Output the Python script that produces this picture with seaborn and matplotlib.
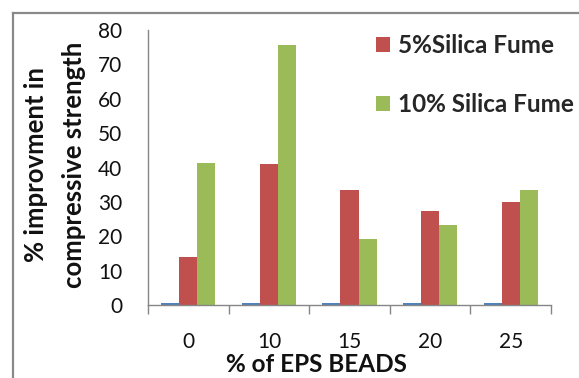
import matplotlib
matplotlib.use("Agg")
import matplotlib.pyplot as plt
from matplotlib.ticker import FixedLocator
import pandas as pd
import seaborn as sns

# EPS bead content (%) and improvement in compressive strength (%)
eps_beads = ["0", "10", "15", "20", "25"]
control = [0.5, 0.5, 0.5, 0.5, 0.5]
silica_5 = [14.0, 41.1, 33.6, 27.4, 30.0]
silica_10 = [41.2, 75.7, 19.2, 23.2, 33.6]
series_names = ["Control", "5%Silica Fume", "10% Silica Fume"]
y_ticks = [0, 10, 20, 30, 40, 50, 60, 70, 80]

colors = ["#4F81BD", "#C0504D", "#9BBB59"]

df = pd.DataFrame({
    "eps": eps_beads * 3,
    "value": control + silica_5 + silica_10,
    "series": [series_names[0]] * 5 + [series_names[1]] * 5 + [series_names[2]] * 5,
})

sns.set_theme(style="white")
plt.rcParams["font.family"] = ["Lato", "DejaVu Sans"]

W, H = 579, 378
fig = plt.figure(figsize=(W / 100, H / 100), dpi=100)
fig.patch.set_facecolor("white")

# chart-area frame: an empty axes whose left and top spines fall inside the image
frame = fig.add_axes([13 / W, -0.05, 1.0, 1.05 - 13 / H], zorder=-1)
frame.patch.set_visible(False)
frame.set_xticks([])
frame.set_yticks([])
for side in ["right", "bottom"]:
    frame.spines[side].set_visible(False)
for side in ["left", "top"]:
    frame.spines[side].set_color("#898989")
    frame.spines[side].set_linewidth(1.6)

# plot area in pixel terms: x 148..551, y 30..305
ax = fig.add_axes([148 / W, 1 - 305 / H, (551 - 148) / W, (305 - 30) / H])

sns.barplot(data=df, x="eps", y="value", hue="series", hue_order=series_names,
            palette=colors, width=0.67, saturation=1, linewidth=0,
            ax=ax)

ax.set_xlim(-0.5, 4.5)
ax.set_ylim(0, 80)
ax.set_yticks(y_ticks)
ax.set_yticklabels([str(v) for v in y_ticks])

for side in ["top", "right"]:
    ax.spines[side].set_visible(False)
for side in ["left", "bottom"]:
    ax.spines[side].set_color("#868686")
    ax.spines[side].set_linewidth(1.0)

ax.xaxis.set_minor_locator(FixedLocator([-0.5, 0.5, 1.5, 2.5, 3.5, 4.5]))
ax.tick_params(axis="both", which="both", direction="out", length=6.5,
               width=1.0, color="#868686", labelsize=15, labelcolor="#111111")
ax.tick_params(axis="y", pad=12)
ax.tick_params(axis="x", pad=13)
ax.tick_params(axis="x", which="minor", bottom=True)

ax.set_xlabel("")
ax.set_ylabel("% improvment in\ncompressive strength", fontsize=18.5,
              fontweight="bold", linespacing=1.7, color="#111111")
ax.yaxis.set_label_coords((86 - 148) / (551 - 148), 0.51)

fig.text(316 / W, 1 - 364 / H, "% of EPS BEADS", fontsize=17.5,
         fontweight="bold", ha="center", va="center", color="#111111")

handles, labels = ax.get_legend_handles_labels()
ax.legend(handles[1:], labels[1:], loc="upper left",
          bbox_to_anchor=(376 / W, 1 - 34 / H), bbox_transform=fig.transFigure,
          frameon=False, prop={"weight": "bold", "size": 17.5},
          handlelength=0.58, handleheight=0.58, handletextpad=0.32,
          labelspacing=1.5, borderpad=0, borderaxespad=0)

fig.savefig("out.png", dpi=100)
